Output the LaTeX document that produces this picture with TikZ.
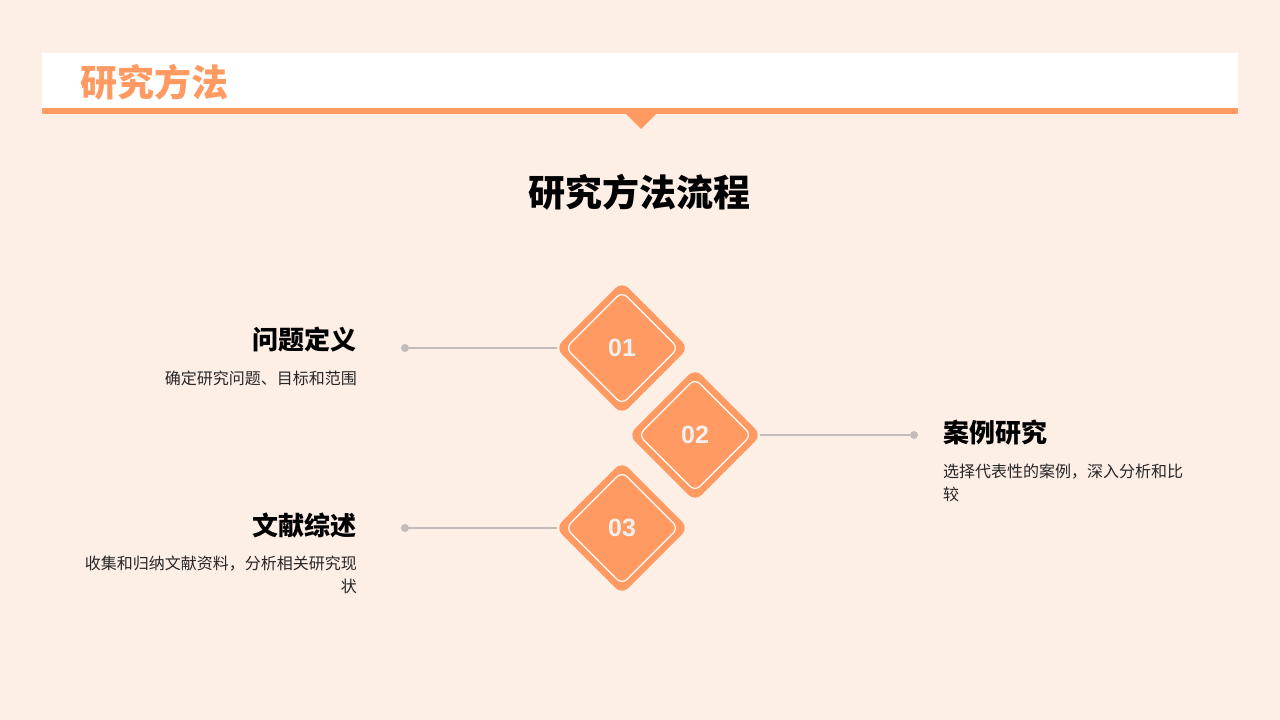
\documentclass[tikz,border=0pt]{standalone}
\usepackage{fontspec}
\setmainfont{Noto Sans CJK SC}
\newfontfamily\numfont{Liberation Sans}
\usetikzlibrary{shapes.geometric}
\definecolor{bgpeach}{HTML}{FDEEE6}
\definecolor{accent}{HTML}{FF9A62}
\definecolor{linkgray}{HTML}{C4BCBA}
\definecolor{numwhite}{HTML}{F2F0EE}

\begin{document}
\begin{tikzpicture}[x=1pt,y=-1pt,
  stepdiamond/.style={diamond,aspect=1,fill=accent,minimum width=133,minimum height=133,inner sep=0,rounded corners=9},
  innerline/.style={diamond,aspect=1,draw=white,line width=1.2,minimum width=113,minimum height=113,inner sep=0,rounded corners=7},
  stepnum/.style={text=numwhite,font=\numfont\fontsize{25}{28}\selectfont\bfseries},
  headtext/.style={font=\fontsize{26}{30}\selectfont\bfseries,inner sep=0},
  desctext/.style={font=\fontsize{16}{23}\selectfont,inner sep=0,text=black!85},
  link/.style={draw=linkgray,line width=1.5},
  dot/.style={circle,fill=linkgray,minimum size=8,inner sep=0}]
  % background and header band
  \fill[bgpeach] (0,0) rectangle (1280,720);
  \fill[white] (42,53) rectangle (1238,108);
  \fill[accent] (42,108) rectangle (1238,114);
  \fill[accent] (625,113) -- (657,113) -- (641,129) -- cycle;
  \node[anchor=west,inner sep=0,text=accent,font=\fontsize{37}{40}\selectfont\bfseries] (head) at (80,82) {研究方法};
  \node[font=\fontsize{37}{40}\selectfont\bfseries] (title) at (639,192) {研究方法流程};

  % the three steps
  \node[stepdiamond] (d1) at (622,348) {};
  \node[innerline] at (d1) {};
  \node[stepnum] (n1) at (d1) {01};
  \node[stepdiamond] (d2) at (695,435) {};
  \node[innerline] at (d2) {};
  \node[stepnum] (n2) at (d2) {02};
  \node[stepdiamond] (d3) at (622,528) {};
  \node[innerline] at (d3) {};
  \node[stepnum] (n3) at (d3) {03};

  % connectors
  \node[dot] (p1) at (405,348) {};
  \node[dot] (p2) at (914,435) {};
  \node[dot] (p3) at (405,528) {};
  \draw[link] (p1) -- ([xshift=2]d1.west);
  \draw[link] ([xshift=-2]d2.east) -- (p2);
  \draw[link] (p3) -- ([xshift=2]d3.west);

  % labels
  \node[headtext,anchor=east] (h1) at (357,340) {问题定义};
  \node[desctext,anchor=north east,align=right] (t1) at (357,371) {确定研究问题、目标和范围};
  \node[headtext,anchor=west] (h2) at (943,433) {案例研究};
  \node[desctext,anchor=north west,align=left] (t2) at (943,464) {选择代表性的案例，深入分析和比\\较};
  \node[headtext,anchor=east] (h3) at (357,525) {文献综述};
  \node[desctext,anchor=north east,align=right] (t3) at (357,556) {收集和归纳文献资料，分析相关研究现\\状};
\end{tikzpicture}
\end{document}
